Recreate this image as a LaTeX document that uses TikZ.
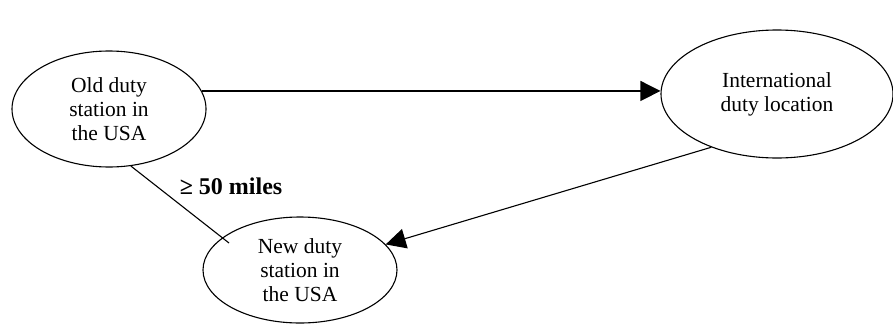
\documentclass[tikz,border=0pt]{standalone}
\usepackage{fontspec}
\setmainfont{Liberation Serif}
\usetikzlibrary{positioning,arrows.meta,shapes.geometric}

\begin{document}
\begin{tikzpicture}[x=1pt,y=-1pt,every node/.style={ellipse,draw=black,line width=1.1pt,align=center,inner sep=0pt,font=\fontsize{21.5}{24}\selectfont}]
			\useasboundingbox (0,0) rectangle (893,324);
			\node [minimum width=194pt, minimum height=116pt] (n1) at (109,109) {Old duty\\station in\\the USA};
			\node [minimum width=232pt, minimum height=128pt] (n2) at (777,94) {International\\duty location};
			\node [minimum width=194pt, minimum height=106pt] (n3) at (300,270) {New duty\\station in\\the USA};
			\coordinate (t3) at (229,243);

			\draw[-{Triangle[length=20pt,width=20pt]},line width=1.1pt] (n1.11) -- (n1.11 -| n2.west);
			\draw[-{Triangle[length=20pt,width=20pt]},line width=1.1pt] (n2.219) -- (n3);
			\draw[line width=1.1pt] (n1.291) -- node[draw=none, shape=rectangle, font=\fontsize{24}{26}\selectfont\bfseries, above right=-2pt and 14pt, pos=0.35] {≥ 50 miles} (t3);
		\end{tikzpicture}
\end{document}
